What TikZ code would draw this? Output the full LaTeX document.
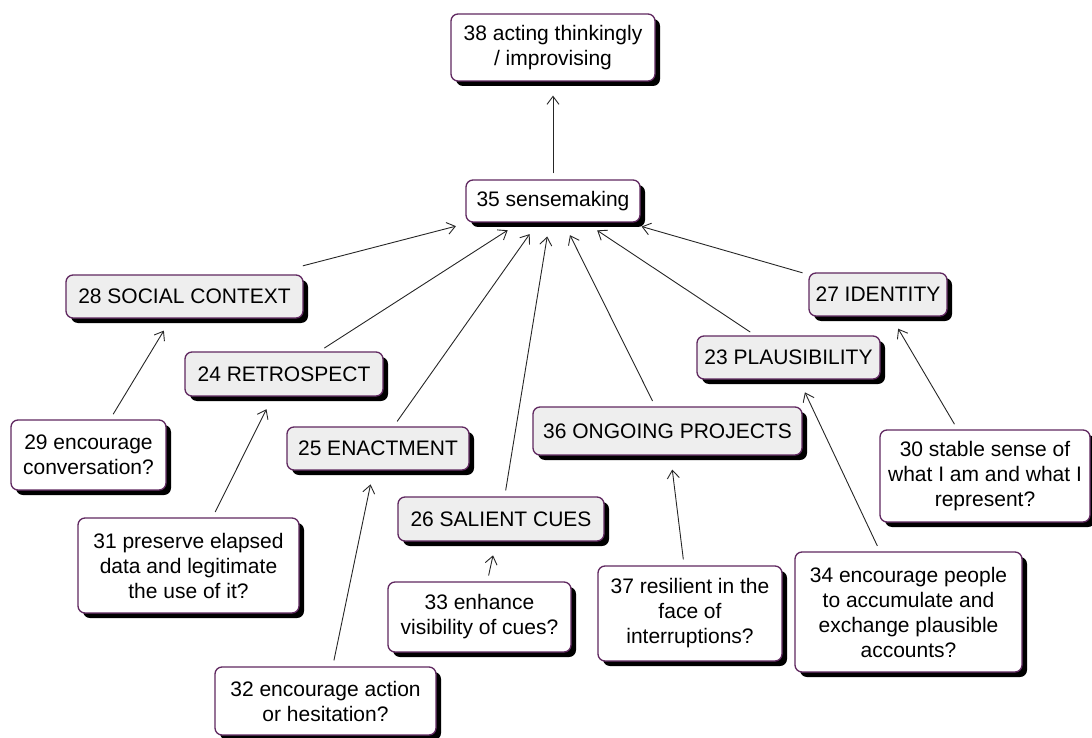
\documentclass[tikz,border=0pt]{standalone}
\usepackage{fontspec}
\setmainfont{Liberation Sans}
\usetikzlibrary{shadows,arrows.meta}
\definecolor{boxline}{RGB}{96,40,96}
\definecolor{concept}{RGB}{238,238,238}
\tikzset{
  box/.style={draw=boxline, line width=1.3pt, rounded corners=7pt, fill=white,
    align=center, inner sep=2pt,
    font=\fontsize{21}{25}\selectfont,
    drop shadow={shadow xshift=5pt, shadow yshift=-5pt, fill=black, opacity=1}},
  cbox/.style={box, fill=concept},
  link/.style={line width=0.9pt, black!85,
    -{Straight Barb[length=8pt,width=12pt,line width=0.9pt]},
    shorten <=6pt, shorten >=14pt}
}
\begin{document}
\begin{tikzpicture}[x=1pt,y=-1pt]
\useasboundingbox (0,0) rectangle (1092,738);
\node[box, minimum width=204pt, minimum height=67pt] (n38) at (553,47.5) {38 acting thinkingly\\/ improvising};
\node[box, minimum width=174pt, minimum height=42pt] (n35) at (553,201) {35 sensemaking};
\node[cbox, minimum width=237pt, minimum height=43pt] (n28) at (184.5,296.5) {28 SOCIAL CONTEXT};
\node[cbox, minimum width=198pt, minimum height=44pt] (n24) at (284,374) {24 RETROSPECT};
\node[cbox, minimum width=182pt, minimum height=43pt] (n25) at (378,448.5) {25 ENACTMENT};
\node[cbox, minimum width=206pt, minimum height=44pt] (n26) at (501,519) {26 SALIENT CUES};
\node[cbox, minimum width=269pt, minimum height=48pt] (n36) at (667.5,431) {36 ONGOING PROJECTS};
\node[cbox, minimum width=183pt, minimum height=43pt] (n23) at (788.5,357.5) {23 PLAUSIBILITY};
\node[cbox, minimum width=138pt, minimum height=43pt] (n27) at (878,294.5) {27 IDENTITY};
\node[box, minimum width=155pt, minimum height=70pt] (n29) at (88.5,455) {29 encourage\\conversation?};
\node[box, minimum width=221pt, minimum height=95pt] (n31) at (188.5,565.5) {31 preserve elapsed\\data and legitimate\\the use of it?};
\node[box, minimum width=221pt, minimum height=68pt] (n32) at (325.5,701) {32 encourage action\\or hesitation?};
\node[box, minimum width=183pt, minimum height=70pt] (n33) at (479.5,617) {33 enhance\\visibility of cues?};
\node[box, minimum width=184pt, minimum height=95pt] (n37) at (690,613.5) {37 resilient in the\\face of\\interruptions?};
\node[box, minimum width=227pt, minimum height=120pt] (n34) at (908.5,612) {34 encourage people\\to accumulate and\\exchange plausible\\accounts?};
\node[box, minimum width=210pt, minimum height=92pt] (n30) at (985,476) {30 stable sense of\\what I am and what I\\represent?};
\draw[link] (n35) -- (n38);
\draw[link, shorten <=34pt] (n28) -- (n35);
\draw[link] (n24) -- (n35);
\draw[link] (n25) -- (n35);
\draw[link] (n26) -- (n35);
\draw[link] (n36) -- (n35);
\draw[link] (n23) -- (n35);
\draw[link] (n27) -- (n35);
\draw[link] (n29) -- (n28);
\draw[link] (n31) -- (n24);
\draw[link] (n32) -- (n25);
\draw[link] (n33) -- (n26);
\draw[link] (n37) -- (n36);
\draw[link] (n34) -- (n23);
\draw[link] (n30) -- (n27);
\end{tikzpicture}
\end{document}
